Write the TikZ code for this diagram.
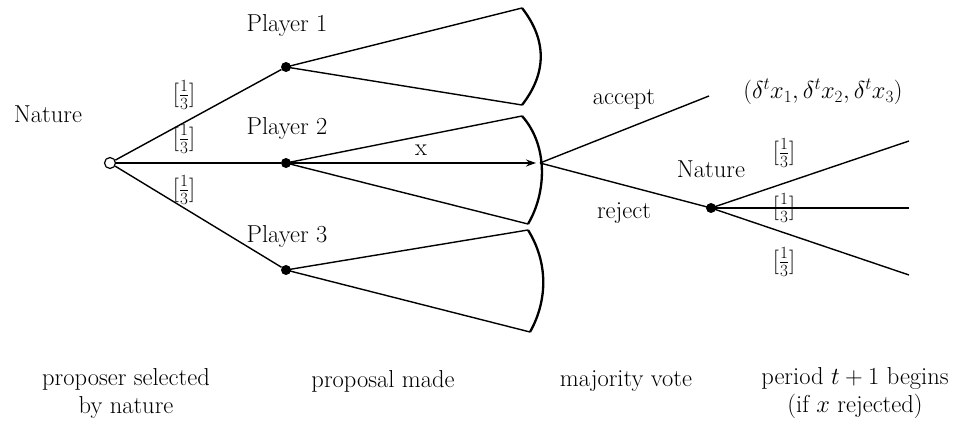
\documentclass[tikz,border=0pt]{standalone}
\usepackage{fix-cm}
\usetikzlibrary{arrows.meta}
\begin{document}
\begin{tikzpicture}[x=1pt,y=-1pt,
  every node/.style={font=\fontsize{24.5}{28}\selectfont},
  thinline/.style={line width=1.4pt},
  thickline/.style={line width=2.8pt},
  arcline/.style={line width=2.3pt},
  dot/.style={circle,fill=black,inner sep=0pt,minimum size=10pt},
  opendot/.style={circle,draw=black,fill=white,line width=1.2pt,inner sep=0pt,minimum size=11pt},
  lbl/.style={inner sep=1pt}]
\useasboundingbox (0,0) rectangle (969,430);
% nodes
\node[opendot] (nat) at (110,163) {};
\node[dot] (p1) at (286,67) {};
\node[dot] (p2) at (286,163) {};
\node[dot] (p3) at (286,270) {};
\coordinate (a1) at (522,8);
\coordinate (b1) at (522,105);
\coordinate (a2) at (522,116);
\coordinate (b2) at (528,224);
\coordinate (a3) at (528,230);
\coordinate (b3) at (530,332);
\coordinate (vote) at (540,163);
\coordinate (acc) at (709,96);
\node[dot] (nat2) at (711,208) {};
\coordinate (e1) at (909,141);
\coordinate (e2) at (909,208);
\coordinate (e3) at (909,275);
% nature branches
\draw[thinline] (nat) -- (p1);
\draw[thickline] (nat) -- (p2);
\draw[thinline] (nat) -- (p3);
% player fans
\draw[thinline] (a1) -- (p1.center) -- (b1);
\draw[thinline] (a2) -- (p2.center) -- (b2);
\draw[thinline] (a3) -- (p3.center) -- (b3);
\draw[arcline] (a1) .. controls (547,40) and (547,73) .. (b1);
\draw[arcline] (a2) .. controls (548,145) and (547,192) .. (b2);
\draw[arcline] (a3) .. controls (548,262) and (548,300) .. (b3);
\draw[line width=1.8pt,-{Stealth[length=10pt,width=7pt]}] (p2) -- (536,163) coordinate (xend);
% vote branches
\draw[thinline] (vote) -- (acc);
\draw[thinline] (vote) -- (nat2.center);
\draw[thinline] (nat2.center) -- (e1);
\draw[thickline] (nat2.center) -- (e2);
\draw[thinline] (nat2.center) -- (e3);
% labels
\node[lbl] (lnat) at (48,114) {Nature};
\node[lbl] (lp1) at (287,25) {Player 1};
\node[lbl] (lp2) at (287,128) {Player 2};
\node[lbl] (lp3) at (287,236) {Player 3};
\node[lbl] (f1) at (184,95) {$[\frac{1}{3}]$};
\node[lbl] (f2) at (184,139) {$[\frac{1}{3}]$};
\node[lbl] (f3) at (184,190) {$[\frac{1}{3}]$};
\node[lbl] (lx) at (421,150) {x};
\node[lbl] (lacc) at (624,99) {accept};
\node[lbl] (lrej) at (624,213) {reject};
\node[lbl] (lpay) at (823,92) {$\Bigl(\delta^t x_1,\delta^t x_2,\delta^t x_3\Bigr)$};
\node[lbl] (lnat2) at (711,169) {Nature};
\node[lbl] (g1) at (784,153) {$[\frac{1}{3}]$};
\node[lbl] (g2) at (784,208) {$[\frac{1}{3}]$};
\node[lbl] (g3) at (784,262) {$[\frac{1}{3}]$};
\node[lbl,align=center] (s1) at (126,393) {proposer selected\\by nature};
\node[lbl] (s2) at (383,381) {proposal made};
\node[lbl] (s3) at (626,381) {majority vote};
\node[lbl,align=center] (s4) at (855,393) {period $t+1$ begins\\(if $x$ rejected)};
\end{tikzpicture}
\end{document}
